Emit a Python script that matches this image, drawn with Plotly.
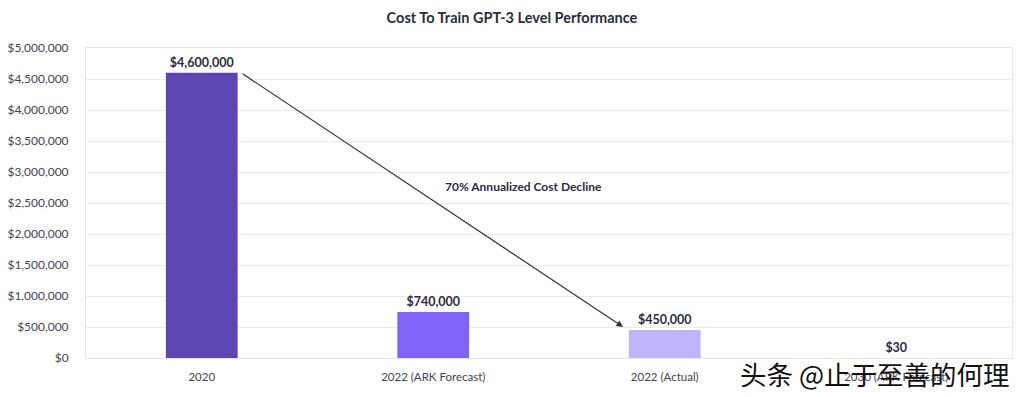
import plotly.graph_objects as go

categories = ["2020", "2022 (ARK Forecast)", "2022 (Actual)", "2030 (ARK Forecast)"]
values = [4600000, 740000, 450000, 30]
value_labels = ["$4,600,000", "$740,000", "$450,000", "$30"]
bar_colors = ["#5b46b2", "#8064f7", "#bfb3f9", "#d6d6de"]
tick_vals = [0, 500000, 1000000, 1500000, 2000000, 2500000, 3000000, 3500000, 4000000, 4500000, 5000000]
tick_text = ["$0", "$500,000", "$1,000,000", "$1,500,000", "$2,000,000", "$2,500,000",
             "$3,000,000", "$3,500,000", "$4,000,000", "$4,500,000", "$5,000,000"]

FONT = "Lato, 'Open Sans', sans-serif"
DARK = "#2c2c3a"

fig = go.Figure()
fig.add_trace(go.Bar(
    x=categories, y=values,
    marker=dict(color=bar_colors, line=dict(width=0)),
    text=[f"<b>{t}</b>" for t in value_labels],
    textposition="outside",
    textfont=dict(family=FONT, size=12.5, color=DARK),
    cliponaxis=False,
    width=0.31,
    hoverinfo="skip",
))

fig.add_annotation(
    x=2 - 0.18, y=500000, ax=0 + 0.17, ay=4600000,
    xref="x", yref="y", axref="x", ayref="y",
    showarrow=True, arrowhead=2, arrowsize=1.1, arrowwidth=1.2, arrowcolor="#333333",
    text="",
)
fig.add_annotation(
    x=1.39, y=2760000, xref="x", yref="y",
    text="<b>70% Annualized Cost Decline</b>", showarrow=False,
    font=dict(family=FONT, size=12, color=DARK),
)
fig.add_annotation(
    xref="paper", yref="paper", xanchor="center", yanchor="middle",
    x=(875 - 86) / 926, y=(358 - 373) / 310,
    text="头条 @止于至善的何理", showarrow=False,
    font=dict(family="Noto Sans CJK SC", size=26.5, color="#111111"),
)

fig.update_layout(
    width=1016, height=389,
    margin=dict(l=78, r=12, t=40, b=39, autoexpand=False),
    paper_bgcolor="white", plot_bgcolor="white",
    showlegend=False,
    bargap=0.69,
    font=dict(family=FONT, size=11, color="#444450"),
    title=dict(
        text="<b>Cost To Train GPT-3 Level Performance</b>",
        x=(512 - 8) / 1016, xanchor="center", xref="container",
        y=1 - 10 / 389, yanchor="middle", yref="container",
        font=dict(family=FONT, size=14.5, color=DARK),
    ),
)
fig.update_xaxes(
    type="category", showgrid=False, showline=True, linecolor="#e6e6ea", mirror=True,
    ticks="", automargin=False, ticklabelstandoff=8,
    tickfont=dict(family=FONT, size=11.5, color="#444450"),
)
fig.update_yaxes(
    range=[0, 5000000], tickvals=tick_vals, ticktext=tick_text,
    showgrid=True, gridcolor="#ececf0", gridwidth=1,
    showline=True, linecolor="#e6e6ea", mirror=True, zeroline=False,
    ticks="", automargin=False, ticklabelstandoff=14,
    tickfont=dict(family=FONT, size=12, color="#444450"),
)

fig.write_html("out.html")
